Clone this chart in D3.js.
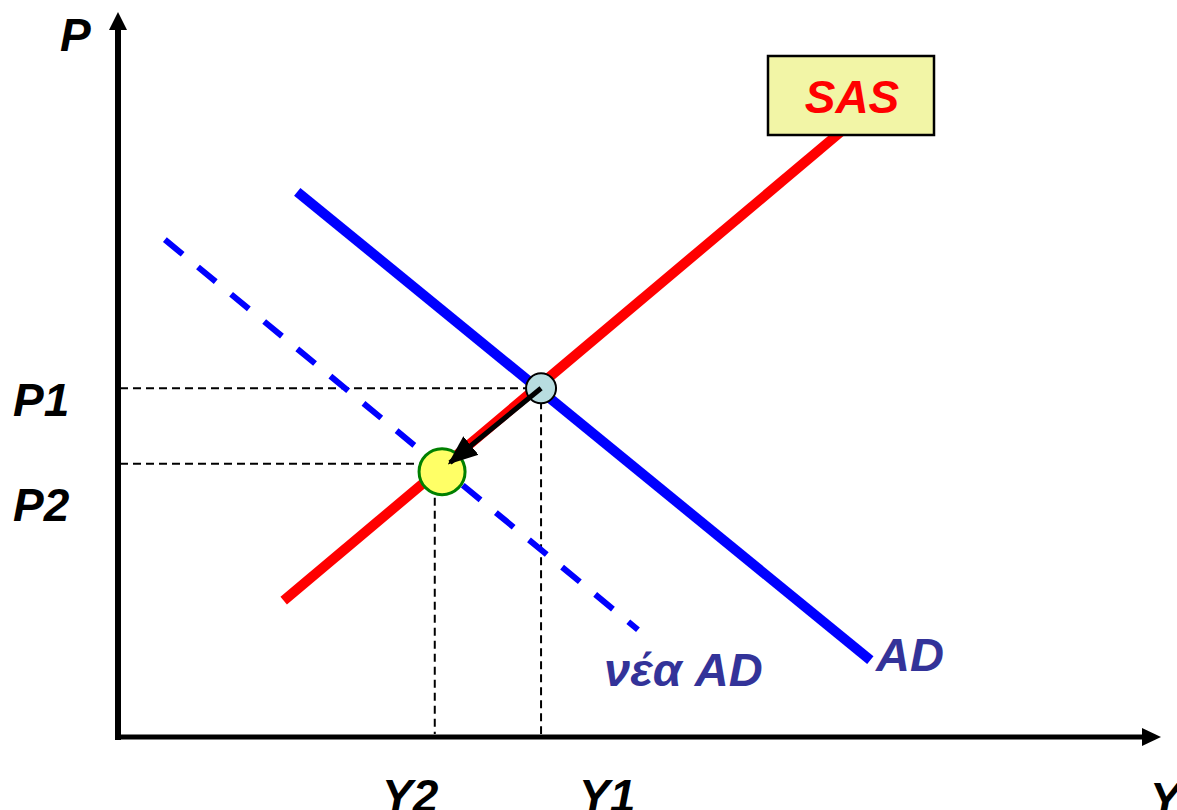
<!DOCTYPE html>
<html>
<head>
<meta charset="utf-8">
<script src="https://cdn.jsdelivr.net/npm/d3@7"></script>
<style>
  body { margin: 0; background: #fff; }
  text { font-family: "Liberation Sans", Arial, sans-serif; font-weight: bold; font-style: italic; }
</style>
</head>
<body>
<div id="chart-container"></div>
<script>
const svgWidth = 1177,
    svgHeight = 810;

// curves in model units (x: output, y: price level)
const sasCurve = [[1.59, 1.88], [6.98, 8.40]];
const adCurve = [[1.72, 7.52], [7.22, 1.06]];
const newAdCurve = [[0.45, 6.86], [4.99, 1.48]];

// equilibria
const eq1 = { x: 4.06, y: 4.81 };
const eq2 = { x: 3.11, y: 3.66 };

// guide levels and their labels
const priceLevels = [4.81, 3.77];
const priceLabels = ["P1", "P2"];
const outputLevels = [3.04, 4.06];
const outputLabels = ["Y2", "Y1"];

var svg = d3.select("#chart-container").append("svg")
    .attr("width", svgWidth)
    .attr("height", svgHeight);

let xScale = d3.scaleLinear().domain([0, 10]).range([118, 1160]),
    yScale = d3.scaleLinear().domain([0, 10]).range([737, 12]);

let line = d3.line().x((d) => xScale(d[0])).y((d) => yScale(d[1]));

let defs = svg.append("defs");
defs.append("marker")
    .attr("id", "head")
    .attr("viewBox", "0 0 10 8")
    .attr("refX", 9).attr("refY", 4)
    .attr("markerWidth", 6).attr("markerHeight", 5)
    .attr("markerUnits", "strokeWidth")
    .attr("orient", "auto")
    .append("path").attr("d", "M0,0L10,4L0,8Z").attr("fill", "#000");

// dashed guides
svg.selectAll(".hguide")
    .data(priceLevels)
    .join("line")
    .attr("x1", xScale(0) + 2)
    .attr("x2", (d, i) => xScale(i == 0 ? eq1.x : eq2.x))
    .attr("y1", (d) => yScale(d))
    .attr("y2", (d) => yScale(d))
    .attr("stroke", "#000").attr("stroke-width", 2)
    .attr("stroke-dasharray", "8,5");

svg.selectAll(".vguide")
    .data(outputLevels)
    .join("line")
    .attr("x1", (d) => xScale(d))
    .attr("x2", (d) => xScale(d))
    .attr("y1", (d, i) => yScale(i == 0 ? eq2.y : eq1.y))
    .attr("y2", yScale(0) - 3)
    .attr("stroke", "#000").attr("stroke-width", 2)
    .attr("stroke-dasharray", "8,5");

// curves
svg.append("path").datum(newAdCurve)
    .attr("d", line)
    .attr("stroke", "#0000ff").attr("stroke-width", 6)
    .attr("stroke-dasharray", "23,19.9")
    .attr("fill", "none");

svg.append("path").datum(adCurve)
    .attr("d", line)
    .attr("stroke", "#0000ff").attr("stroke-width", 10)
    .attr("fill", "none");

svg.append("path").datum(sasCurve)
    .attr("d", line)
    .attr("stroke", "#ff0000").attr("stroke-width", 10)
    .attr("fill", "none");

// axes
svg.append("line")
    .attr("x1", xScale(0)).attr("x2", xScale(0))
    .attr("y1", yScale(0) + 3).attr("y2", 24)
    .attr("stroke", "#000").attr("stroke-width", 6);
svg.append("path")
    .attr("d", "M" + xScale(0) + ",12L" + (xScale(0) + 9) + ",30L" + (xScale(0) - 9) + ",30Z")
    .attr("fill", "#000");

svg.append("line")
    .attr("x1", xScale(0) - 3).attr("x2", 1148)
    .attr("y1", yScale(0)).attr("y2", yScale(0))
    .attr("stroke", "#000").attr("stroke-width", 5);
svg.append("path")
    .attr("d", "M1161," + yScale(0) + "L1142," + (yScale(0) - 9) + "L1142," + (yScale(0) + 9) + "Z")
    .attr("fill", "#000");

// equilibrium points
svg.append("circle")
    .attr("cx", xScale(eq1.x)).attr("cy", yScale(eq1.y)).attr("r", 15)
    .attr("fill", "#b8dde0").attr("stroke", "#000").attr("stroke-width", 2);

svg.append("circle")
    .attr("cx", xScale(eq2.x)).attr("cy", yScale(eq2.y)).attr("r", 23)
    .attr("fill", "#ffff66").attr("stroke", "#008000").attr("stroke-width", 3);

// shift arrow
svg.append("line")
    .attr("x1", xScale(eq1.x)).attr("y1", yScale(eq1.y))
    .attr("x2", xScale(eq2.x) + 8).attr("y2", yScale(eq2.y) - 9)
    .attr("stroke", "#000").attr("stroke-width", 5)
    .attr("marker-end", "url(#head)");

// SAS label box
svg.append("rect")
    .attr("x", 768).attr("y", 56).attr("width", 166).attr("height", 79)
    .attr("fill", "#f2f5a6").attr("stroke", "#000").attr("stroke-width", 2.5);
svg.append("text")
    .attr("x", 852).attr("y", 113)
    .attr("text-anchor", "middle")
    .attr("font-size", 46).attr("fill", "#ff0000")
    .text("SAS");

// curve labels
svg.append("text")
    .attr("x", 876).attr("y", 671)
    .attr("font-size", 47).attr("fill", "#333399")
    .text("AD");
svg.append("text")
    .attr("x", 604).attr("y", 686)
    .attr("font-size", 47).attr("fill", "#333399")
    .text("νέα AD");

// axis labels
svg.append("text").attr("x", 60).attr("y", 51)
    .attr("font-size", 46).attr("fill", "#000").text("P");
svg.append("text").attr("x", 1150).attr("y", 815)
    .attr("font-size", 46).attr("fill", "#000").text("Y");

svg.selectAll(".plabel")
    .data(priceLabels)
    .join("text")
    .attr("x", 13)
    .attr("y", (d, i) => i == 0 ? 416 : 521)
    .attr("font-size", 46).attr("fill", "#000")
    .text((d) => d);

svg.selectAll(".ylabel")
    .data(outputLabels)
    .join("text")
    .attr("x", (d, i) => i == 0 ? 382 : 579)
    .attr("y", 812)
    .attr("font-size", 46).attr("fill", "#000")
    .text((d) => d);
</script>
</body>
</html>
